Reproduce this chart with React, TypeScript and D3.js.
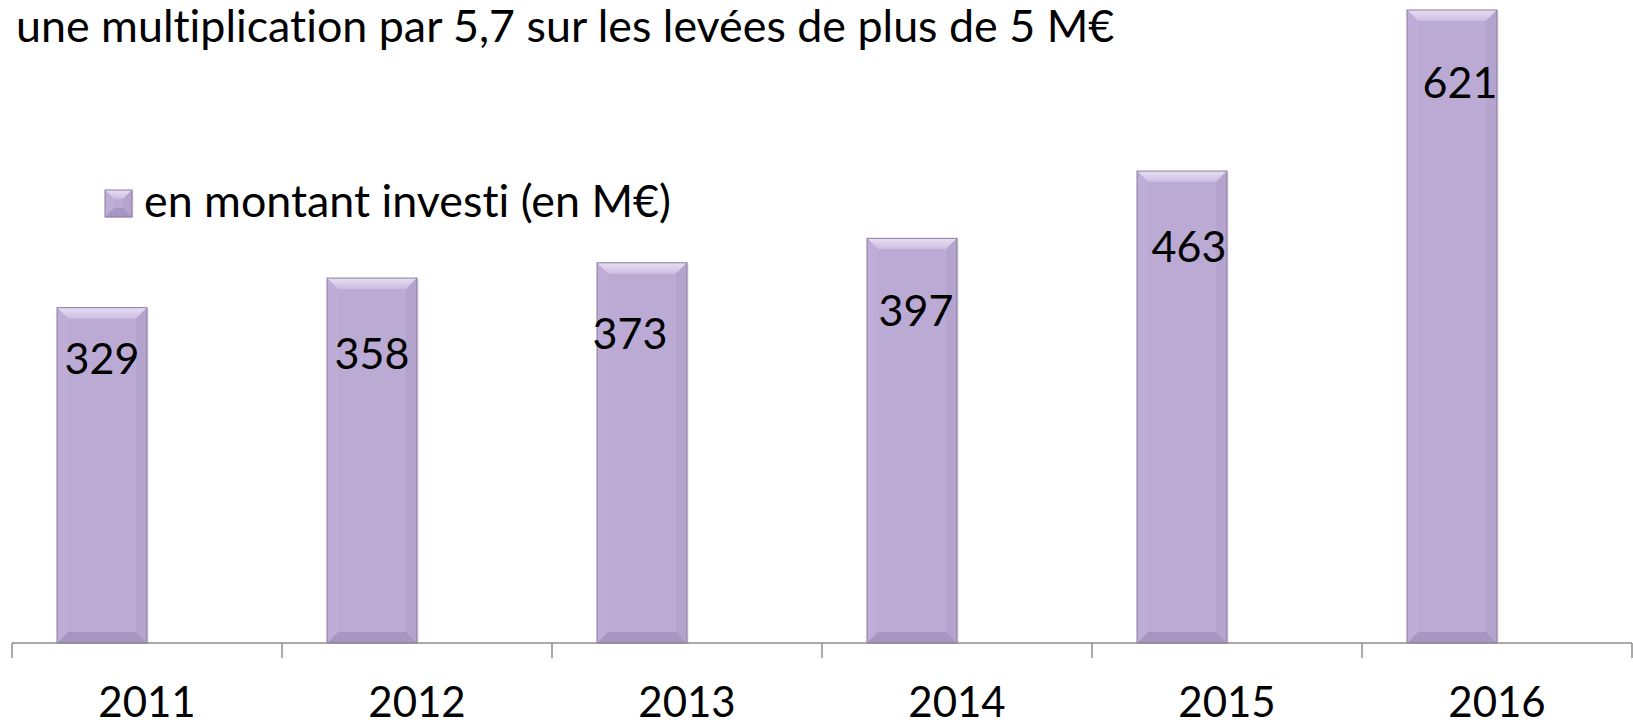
import React from "react";
import * as d3 from "d3";

const years = ["2011", "2012", "2013", "2014", "2015", "2016"];
const amounts = [329, 358, 373, 397, 463, 621];
const titleText = "une multiplication par 5,7 sur les levées de plus de 5 M€";
const legendLabel = "en montant investi (en M€)";

// layout nudges for the hand-placed data labels (px)
const labelDx = [0, 0, -12, 4, 7, 8];
const labelDy = [-23, 2, -3, -1, 2, -1];

const W = 1633;
const H = 724;
const axisY = 643;
const FONT = "Lato, 'Open Sans', sans-serif";
const textStyle: React.CSSProperties = { fontVariantLigatures: "none", fontFeatureSettings: "'liga' 0, 'clig' 0" };

function BevelBar({ x, y, w, h, b, id }: { x: number; y: number; w: number; h: number; b: number; id: string }) {
  const bb = Math.min(b, h / 2, w / 2);
  const x2 = x + w;
  const y2 = y + h;
  return (
    <g>
      <defs>
        <linearGradient id={`top-${id}`} x1="0" y1="0" x2="0" y2="1">
          <stop offset="0" stopColor="#E8DFF2" />
          <stop offset="1" stopColor="#CBBDE0" />
        </linearGradient>
      </defs>
      <rect x={x + 1.5} y={y + 1} width={w} height={h} fill="#000" opacity={0.12} />
      <rect x={x} y={y} width={w} height={h} fill="#BBAAD4" />
      <polygon points={`${x},${y} ${x2},${y} ${x2 - bb},${y + bb} ${x + bb},${y + bb}`} fill={`url(#top-${id})`} />
      <polygon points={`${x},${y} ${x + bb},${y + bb} ${x + bb},${y2 - bb} ${x},${y2}`} fill="#BEADD6" />
      <polygon points={`${x2},${y} ${x2},${y2} ${x2 - bb},${y2 - bb} ${x2 - bb},${y + bb}`} fill="#B4A3CD" />
      <polygon points={`${x},${y2} ${x + bb},${y2 - bb} ${x2 - bb},${y2 - bb} ${x2},${y2}`} fill="#A896C2" />
      <rect x={x} y={y} width={w} height={h} fill="none" stroke="#8B7BA3" strokeWidth={1} />
    </g>
  );
}

export default function App() {
  const x = d3.scaleBand<string>().domain(years).range([12, 1632]).paddingInner(0).paddingOuter(0);
  const bw = x.bandwidth();
  const barW = bw / 3;
  const y = d3
    .scaleLinear()
    .domain([0, d3.max(amounts) as number])
    .range([axisY, 10]);

  const tickXs = [...years.map((yr) => x(yr) as number), (x(years[years.length - 1]) as number) + bw];

  return (
    <div style={{ position: "absolute", left: 0, top: 0 }}>
      <svg width={W} height={H} style={{ display: "block", background: "#fff" }}>
        <text x={16} y={42} fontFamily={FONT} fontSize={44.8} fill="#000" style={textStyle}>
          {titleText}
        </text>

        {years.map((yr, i) => {
          const bx = (x(yr) as number) + barW / 2;
          const by = y(amounts[i]);
          return <BevelBar key={yr} id={`b${i}`} x={bx} y={by} w={barW} h={axisY - by} b={11} />;
        })}

        <line x1={12} x2={1632} y1={axisY} y2={axisY} stroke="#8C8C8C" strokeWidth={1.5} />
        {tickXs.map((tx, i) => (
          <line key={i} x1={tx} x2={tx} y1={axisY} y2={658} stroke="#8C8C8C" strokeWidth={1.5} />
        ))}
        {years.map((yr) => (
          <text
            key={yr}
            x={(x(yr) as number) + bw / 2}
            y={717}
            textAnchor="middle"
            fontFamily={FONT}
            fontSize={42}
            fill="#000"
            style={textStyle}
          >
            {yr}
          </text>
        ))}

        {years.map((yr, i) => (
          <text
            key={yr}
            x={(x(yr) as number) + barW + labelDx[i]}
            y={y(amounts[i]) + 89 + labelDy[i]}
            textAnchor="middle"
            fontFamily={FONT}
            fontSize={43}
            fill="#000"
            style={textStyle}
          >
            {amounts[i]}
          </text>
        ))}

        <BevelBar id="leg" x={105} y={190} w={27} h={27} b={9} />
        <text x={144} y={217} fontFamily={FONT} fontSize={44.8} fill="#000" style={textStyle}>
          {legendLabel}
        </text>
      </svg>
    </div>
  );
}
